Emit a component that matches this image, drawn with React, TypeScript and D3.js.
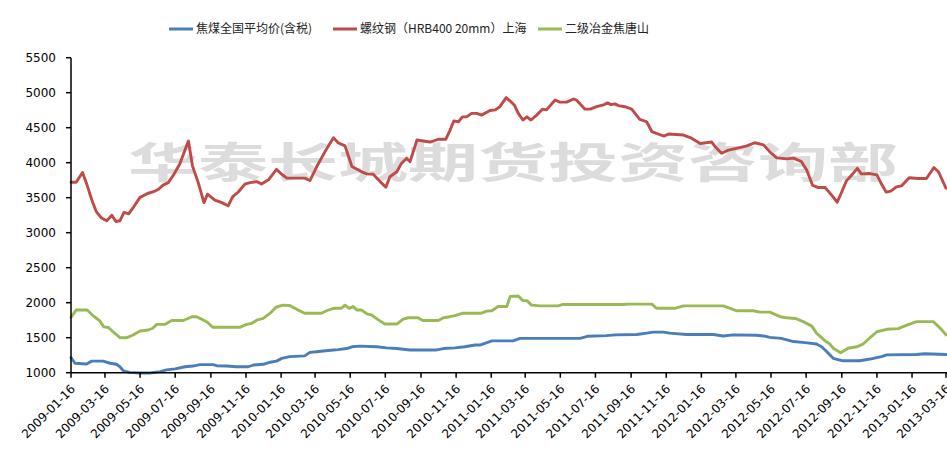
import React from "react";
import * as d3 from "d3";

const tickLabels = [
  "2009-01-16","2009-03-16","2009-05-16","2009-07-16","2009-09-16","2009-11-16",
  "2010-01-16","2010-03-16","2010-05-16","2010-07-16","2010-09-16","2010-11-16",
  "2011-01-16","2011-03-16","2011-05-16","2011-07-16","2011-09-16","2011-11-16",
  "2012-01-16","2012-03-16","2012-05-16","2012-07-16","2012-09-16","2012-11-16",
  "2013-01-16","2013-03-16",
];
const yTicks = [1000,1500,2000,2500,3000,3500,4000,4500,5000,5500];

const seriesNames = ["焦煤全国平均价(含税)", "螺纹钢（HRB400 20mm）上海", "二级冶金焦唐山"];
const seriesColors = ["#4a7ebb", "#be4b48", "#98b954"];

const cokingCoal: [string, number][] = [
  ["2009-01-16",1215],["2009-01-23",1135],["2009-02-12",1125],["2009-02-21",1165],["2009-03-13",1165],
  ["2009-03-25",1135],["2009-04-05",1120],["2009-04-11",1085],["2009-04-17",1025],["2009-04-28",1005],
  ["2009-05-16",995],["2009-06-02",995],["2009-06-20",1015],["2009-07-01",1040],["2009-07-16",1055],
  ["2009-08-02",1085],["2009-08-16",1095],["2009-08-28",1115],["2009-09-20",1115],["2009-09-26",1100],
  ["2009-10-13",1095],["2009-10-31",1085],["2009-11-20",1085],["2009-11-29",1110],["2009-12-16",1120],
  ["2009-12-28",1150],["2010-01-08",1165],["2010-01-17",1205],["2010-01-31",1230],["2010-02-26",1240],
  ["2010-03-07",1290],["2010-03-19",1300],["2010-03-30",1310],["2010-04-17",1325],["2010-04-25",1330],
  ["2010-05-10",1345],["2010-05-19",1370],["2010-06-02",1380],["2010-07-01",1370],["2010-07-18",1355],
  ["2010-08-05",1345],["2010-08-28",1325],["2010-10-13",1325],["2010-10-25",1345],["2010-11-14",1355],
  ["2010-12-01",1370],["2010-12-19",1395],["2010-12-27",1395],["2011-01-05",1420],["2011-01-17",1455],
  ["2011-02-23",1455],["2011-03-07",1490],["2011-04-16",1490],["2011-06-19",1490],["2011-07-02",1520],
  ["2011-08-04",1530],["2011-08-19",1540],["2011-09-26",1545],["2011-10-13",1565],["2011-10-24",1580],
  ["2011-11-11",1580],["2011-11-22",1565],["2011-12-21",1545],["2012-02-06",1545],["2012-02-23",1525],
  ["2012-03-11",1540],["2012-04-21",1535],["2012-05-03",1525],["2012-05-14",1505],["2012-06-03",1490],
  ["2012-06-24",1445],["2012-07-14",1430],["2012-08-03",1410],["2012-08-12",1370],["2012-08-21",1300],
  ["2012-09-01",1205],["2012-09-18",1170],["2012-10-17",1170],["2012-11-04",1195],["2012-11-24",1230],
  ["2012-12-03",1255],["2013-01-24",1260],["2013-02-07",1270],["2013-03-16",1260],
];

const rebar: [string, number][] = [
  ["2009-01-16",3720],["2009-01-25",3720],["2009-02-05",3860],["2009-02-13",3680],["2009-02-21",3470],
  ["2009-03-01",3300],["2009-03-10",3210],["2009-03-19",3170],["2009-03-28",3250],["2009-04-04",3160],
  ["2009-04-11",3170],["2009-04-18",3290],["2009-04-26",3270],["2009-05-05",3370],["2009-05-16",3505],
  ["2009-05-29",3560],["2009-06-11",3595],["2009-06-17",3620],["2009-06-25",3680],["2009-07-04",3715],
  ["2009-07-13",3825],["2009-07-24",3980],["2009-08-02",4180],["2009-08-08",4310],["2009-08-15",3955],
  ["2009-08-25",3715],["2009-09-04",3430],["2009-09-10",3550],["2009-09-23",3465],["2009-10-05",3430],
  ["2009-10-16",3385],["2009-10-24",3515],["2009-11-03",3585],["2009-11-14",3695],["2009-11-23",3715],
  ["2009-12-05",3730],["2009-12-13",3695],["2009-12-25",3755],["2010-01-08",3905],["2010-01-17",3835],
  ["2010-01-26",3780],["2010-02-06",3780],["2010-02-26",3780],["2010-03-07",3745],["2010-03-19",3945],
  ["2010-04-02",4155],["2010-04-17",4355],["2010-04-25",4285],["2010-05-07",4240],["2010-05-19",3945],
  ["2010-06-05",3870],["2010-06-14",3840],["2010-06-25",3835],["2010-07-07",3730],["2010-07-17",3650],
  ["2010-07-24",3800],["2010-08-05",3870],["2010-08-13",3990],["2010-08-22",4065],["2010-08-28",4015],
  ["2010-09-09",4325],["2010-09-20",4310],["2010-10-02",4295],["2010-10-16",4335],["2010-10-29",4335],
  ["2010-11-05",4455],["2010-11-12",4595],["2010-11-20",4585],["2010-11-27",4655],["2010-12-04",4655],
  ["2010-12-13",4705],["2010-12-22",4705],["2010-12-30",4680],["2011-01-14",4745],["2011-01-23",4755],
  ["2011-01-31",4800],["2011-02-11",4930],["2011-02-18",4880],["2011-02-25",4825],["2011-03-04",4705],
  ["2011-03-12",4610],["2011-03-19",4655],["2011-03-26",4610],["2011-04-05",4680],["2011-04-15",4765],
  ["2011-04-22",4755],["2011-05-07",4895],["2011-05-15",4865],["2011-05-27",4865],["2011-06-08",4910],
  ["2011-06-13",4895],["2011-06-28",4765],["2011-07-07",4765],["2011-07-18",4800],["2011-07-30",4825],
  ["2011-08-06",4855],["2011-08-12",4830],["2011-08-19",4840],["2011-08-25",4815],["2011-09-05",4800],
  ["2011-09-17",4765],["2011-10-01",4620],["2011-10-13",4585],["2011-10-22",4445],["2011-11-02",4410],
  ["2011-11-12",4380],["2011-11-20",4410],["2011-12-16",4395],["2011-12-30",4350],["2012-01-14",4275],
  ["2012-02-03",4295],["2012-02-10",4220],["2012-02-20",4135],["2012-03-03",4180],["2012-03-17",4205],
  ["2012-04-04",4240],["2012-04-18",4285],["2012-05-03",4255],["2012-05-14",4155],["2012-05-26",4070],
  ["2012-06-12",4055],["2012-06-24",4065],["2012-07-08",4015],["2012-07-17",3895],["2012-07-27",3680],
  ["2012-08-06",3645],["2012-08-18",3645],["2012-08-29",3540],["2012-09-08",3435],["2012-09-16",3585],
  ["2012-09-24",3740],["2012-10-06",3850],["2012-10-13",3920],["2012-10-20",3840],["2012-11-04",3845],
  ["2012-11-16",3825],["2012-11-24",3695],["2012-12-02",3580],["2012-12-10",3595],["2012-12-20",3655],
  ["2012-12-29",3670],["2013-01-11",3785],["2013-01-27",3775],["2013-02-10",3775],["2013-02-23",3930],
  ["2013-03-03",3870],["2013-03-16",3635],
];

const coke: [string, number][] = [
  ["2009-01-16",1790],["2009-01-25",1895],["2009-02-13",1895],["2009-02-24",1810],["2009-03-07",1740],
  ["2009-03-14",1655],["2009-03-22",1645],["2009-03-30",1585],["2009-04-11",1500],["2009-04-23",1500],
  ["2009-05-03",1535],["2009-05-16",1595],["2009-05-30",1610],["2009-06-07",1635],["2009-06-14",1690],
  ["2009-06-28",1690],["2009-07-10",1745],["2009-07-30",1745],["2009-08-14",1800],["2009-08-22",1800],
  ["2009-08-31",1765],["2009-09-10",1720],["2009-09-19",1650],["2009-11-06",1650],["2009-11-17",1690],
  ["2009-11-26",1705],["2009-12-06",1755],["2009-12-16",1775],["2009-12-28",1850],["2010-01-07",1935],
  ["2010-01-19",1965],["2010-01-31",1960],["2010-02-12",1905],["2010-02-26",1850],["2010-03-27",1850],
  ["2010-04-05",1885],["2010-04-17",1920],["2010-05-01",1920],["2010-05-07",1965],["2010-05-14",1920],
  ["2010-05-21",1945],["2010-05-28",1895],["2010-06-05",1895],["2010-06-14",1840],["2010-06-22",1825],
  ["2010-07-04",1755],["2010-07-15",1695],["2010-08-05",1695],["2010-08-16",1765],["2010-08-25",1785],
  ["2010-09-11",1785],["2010-09-19",1745],["2010-10-16",1745],["2010-10-25",1785],["2010-11-05",1800],
  ["2010-11-14",1815],["2010-11-28",1850],["2010-12-30",1850],["2011-01-08",1880],["2011-01-17",1885],
  ["2011-01-28",1945],["2011-02-12",1945],["2011-02-18",2090],["2011-03-04",2095],["2011-03-12",2030],
  ["2011-03-19",2030],["2011-03-27",1965],["2011-04-11",1955],["2011-05-12",1955],["2011-05-21",1975],
  ["2011-09-02",1975],["2011-09-11",1980],["2011-10-22",1980],["2011-10-30",1920],["2011-12-01",1920],
  ["2011-12-16",1955],["2012-02-23",1955],["2012-03-06",1920],["2012-03-17",1885],["2012-04-15",1885],
  ["2012-04-27",1865],["2012-05-14",1865],["2012-06-01",1800],["2012-06-12",1785],["2012-06-27",1775],
  ["2012-07-11",1730],["2012-07-26",1665],["2012-08-03",1565],["2012-08-18",1455],["2012-08-26",1410],
  ["2012-09-01",1350],["2012-09-14",1285],["2012-09-27",1350],["2012-10-12",1370],["2012-10-23",1410],
  ["2012-11-04",1500],["2012-11-16",1585],["2012-12-03",1620],["2012-12-23",1630],["2013-01-07",1680],
  ["2013-01-24",1730],["2013-02-22",1730],["2013-03-06",1635],["2013-03-16",1540],
];

const watermark = "华泰长城期货投资咨询部";

const W = 947;
const H = 453;
const parse = d3.utcParse("%Y-%m-%d");

export default function App() {
  const left = 71;
  const right = 946;
  const top = 57.7;
  const bottom = 372.7;

  const x = d3
    .scaleUtc()
    .domain([parse(tickLabels[0])!, parse(tickLabels[tickLabels.length - 1])!])
    .range([left, right]);
  const y = d3.scaleLinear().domain([1000, 5500]).range([bottom, top]);

  const line = d3
    .line<[string, number]>()
    .x((d) => x(parse(d[0])!))
    .y((d) => y(d[1]));

  const allSeries = [cokingCoal, rebar, coke];
  const drawOrder = [2, 0, 1];

  const legendX = [169, 333, 538];
  const legendY = 29;

  return (
    <svg
      width={W}
      height={H}
      style={{ position: "absolute", left: 0, top: 0, background: "#fff" }}
      fontFamily="'DejaVu Sans', Verdana, sans-serif"
    >
      <rect x={0} y={0} width={W} height={H} fill="#fff" />
      {/* watermark */}
      <text
        x={128}
        y={178}
        fontSize={42}
        fontWeight="bold"
        fontFamily="'Noto Sans CJK SC', sans-serif"
        fill="#dcdcdc"
        textLength={770}
        lengthAdjust="spacingAndGlyphs"
      >
        {watermark}
      </text>

      {/* legend */}
      {seriesNames.map((name, i) => (
        <g key={name}>
          <line
            x1={legendX[i]}
            x2={legendX[i] + 24}
            y1={legendY}
            y2={legendY}
            stroke={seriesColors[i]}
            strokeWidth={3}
          />
          <text
            x={legendX[i] + 27}
            y={legendY}
            dy="0.36em"
            fontSize={12}
            fontFamily="'Noto Sans CJK SC', sans-serif"
            fill="#222"
          >
            {name}
          </text>
        </g>
      ))}

      {/* series */}
      {drawOrder.map((i) => (
        <path
          key={i}
          d={line(allSeries[i]) || ""}
          fill="none"
          stroke={seriesColors[i]}
          strokeWidth={2.9}
          strokeLinejoin="round"
          strokeLinecap="round"
        />
      ))}

      {/* y axis */}
      <line x1={left} x2={left} y1={top} y2={bottom} stroke="#000" strokeWidth={1.5} />
      {yTicks.map((t) => (
        <g key={t}>
          <line x1={left - 5} x2={left} y1={y(t)} y2={y(t)} stroke="#000" strokeWidth={1.5} />
          <text x={left - 15} y={y(t)} dy="0.36em" textAnchor="end" fontSize={12} fill="#000">
            {t}
          </text>
        </g>
      ))}

      {/* x axis */}
      <line x1={left} x2={W} y1={bottom} y2={bottom} stroke="#000" strokeWidth={1.5} />
      {tickLabels.map((t) => {
        const tx = x(parse(t)!);
        return (
          <g key={t}>
            <line x1={tx} x2={tx} y1={bottom} y2={bottom + 5} stroke="#000" strokeWidth={1.5} />
            <text
              transform={`translate(${tx + 5},${bottom + 17}) rotate(-45)`}
              textAnchor="end"
              fontSize={12}
              fill="#000"
            >
              {t}
            </text>
          </g>
        );
      })}
    </svg>
  );
}
